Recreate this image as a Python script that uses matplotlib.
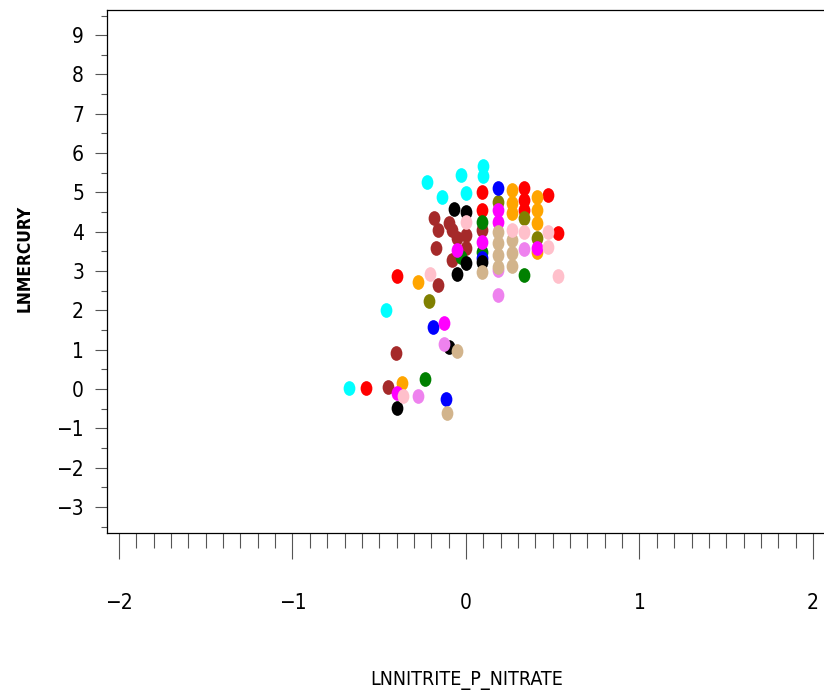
#!/usr/bin/env python3

# Scatter of log mercury against log nitrite+nitrate, one colour per group.

import numpy as np
import matplotlib
matplotlib.use('Agg')
import matplotlib.pyplot as plt
from matplotlib.path import Path
from matplotlib.ticker import MultipleLocator

plt.rcParams['font.family'] = ['DejaVu Sans']
plt.rcParams['font.stretch'] = 'condensed'

# (colour, x values, y values) per group
cyan_x = [-0.225, -0.029, -0.138, 0.0, 0.098, 0.098, -0.461, -0.674]
cyan_y = [5.26, 5.44, 4.88, 4.98, 5.67, 5.42, 2.01, 0.03]

red_x = [0.092, 0.092, 0.334, 0.334, 0.334, 0.473, 0.530, -0.398, -0.576]
red_y = [5.01, 4.55, 5.11, 4.81, 4.55, 4.93, 3.97, 2.87, 0.03]

brown_x = [-0.184, -0.161, -0.098, -0.081, -0.052, 0.0, -0.173, -0.081, 0.0, 0.092, -0.161, -0.404, -0.450]
brown_y = [4.35, 4.04, 4.22, 4.04, 3.84, 3.92, 3.58, 3.28, 3.58, 4.04, 2.64, 0.92, 0.05]

orange_x = [0.265, 0.265, 0.265, 0.409, 0.409, 0.409, 0.409, -0.277, -0.369]
orange_y = [5.06, 4.73, 4.47, 4.88, 4.55, 4.22, 3.48, 2.72, 0.15]

olive_x = [0.185, 0.334, 0.409, -0.213]
olive_y = [4.75, 4.35, 3.84, 2.24]

green_x = [0.092, 0.092, 0.334, -0.029, -0.236]
green_y = [4.25, 3.48, 2.90, 3.36, 0.25]

blue_x = [0.185, 0.092, -0.190, -0.115]
blue_y = [5.11, 3.33, 1.58, -0.25]

magenta_x = [0.185, 0.185, 0.092, -0.052, 0.409, -0.127, -0.398]
magenta_y = [4.55, 4.25, 3.74, 3.53, 3.58, 1.68, -0.10]

black_x = [-0.069, 0.0, 0.0, -0.052, -0.098, -0.398, 0.092]
black_y = [4.58, 4.50, 3.20, 2.92, 1.07, -0.48, 3.23]

violet_x = [0.185, 0.334, 0.185, -0.127, -0.277]
violet_y = [2.39, 3.56, 3.03, 1.14, -0.18]

tan_x = [0.092, 0.185, 0.185, 0.185, 0.185, 0.265, 0.265, 0.265, -0.052, -0.110]
tan_y = [2.97, 3.99, 3.71, 3.41, 3.10, 3.79, 3.46, 3.13, 0.97, -0.61]

pink_x = [0.0, 0.265, 0.334, 0.473, 0.473, 0.530, -0.207, -0.363]
pink_y = [4.25, 4.04, 3.99, 3.99, 3.61, 2.87, 2.92, -0.18]

groups = [
    ('#00ffff', cyan_x, cyan_y),
    ('#ff0000', red_x, red_y),
    ('#a52a2a', brown_x, brown_y),
    ('#ffa500', orange_x, orange_y),
    ('#808000', olive_x, olive_y),
    ('#008000', green_x, green_y),
    ('#0000ff', blue_x, blue_y),
    ('#ff00ff', magenta_x, magenta_y),
    ('#000000', black_x, black_y),
    ('#ee82ee', violet_x, violet_y),
    ('#d2b48c', tan_x, tan_y),
    ('#ffc0cb', pink_x, pink_y),
]

# slightly tall ellipse as the marker
circ = Path.unit_circle()
ellipse = Path(circ.vertices * np.array([0.8, 1.0]), circ.codes)

fig = plt.figure(figsize=(8.24, 6.94), dpi=100)
# frame runs off the right edge of the figure
ax = fig.add_axes([107 / 824, 161 / 694, 727 / 824, 523 / 694])

for color, xs, ys in groups:
    ax.scatter(xs, ys, s=112, marker=ellipse, c=color, linewidths=0, zorder=3)

ax.set_xlim(-2.069, -2.069 + 727 / 173.5)
ax.set_ylim(-3.66, 9.64)

ax.xaxis.set_major_locator(MultipleLocator(1))
ax.xaxis.set_minor_locator(MultipleLocator(0.1))
ax.yaxis.set_major_locator(MultipleLocator(1))
ax.yaxis.set_minor_locator(MultipleLocator(0.5))

ax.tick_params(axis='x', which='major', direction='out', length=19, width=0.8,
               color='#555555', pad=24, labelsize=15)
ax.tick_params(axis='x', which='minor', direction='out', length=11, width=0.8,
               color='#555555')
ax.tick_params(axis='y', which='major', direction='out', length=8.5, width=0.8,
               color='#555555', pad=8, labelsize=15)
ax.tick_params(axis='y', which='minor', direction='out', length=4.5, width=0.8,
               color='#555555')

for side in ax.spines.values():
    side.set_linewidth(0.9)
ax.spines['right'].set_visible(False)

ax.set_xticks([-2, -1, 0, 1, 2])
ax.set_xticklabels(['\u22122', '\u22121', '0', '1', '2'])
ax.set_yticks(range(-3, 10))
ax.set_yticklabels([str(v).replace('-', '\u2212') for v in range(-3, 10)])

fig.text(25 / 824, 1 - 258 / 694, 'LNMERCURY', rotation=90, ha='center', va='center',
         fontsize=12.5, fontweight='bold')
fig.text(467 / 824, 1 - 680 / 694, 'LNNITRITE_P_NITRATE', ha='center', va='center',
         fontsize=14)

fig.savefig('out.png', dpi=100)
